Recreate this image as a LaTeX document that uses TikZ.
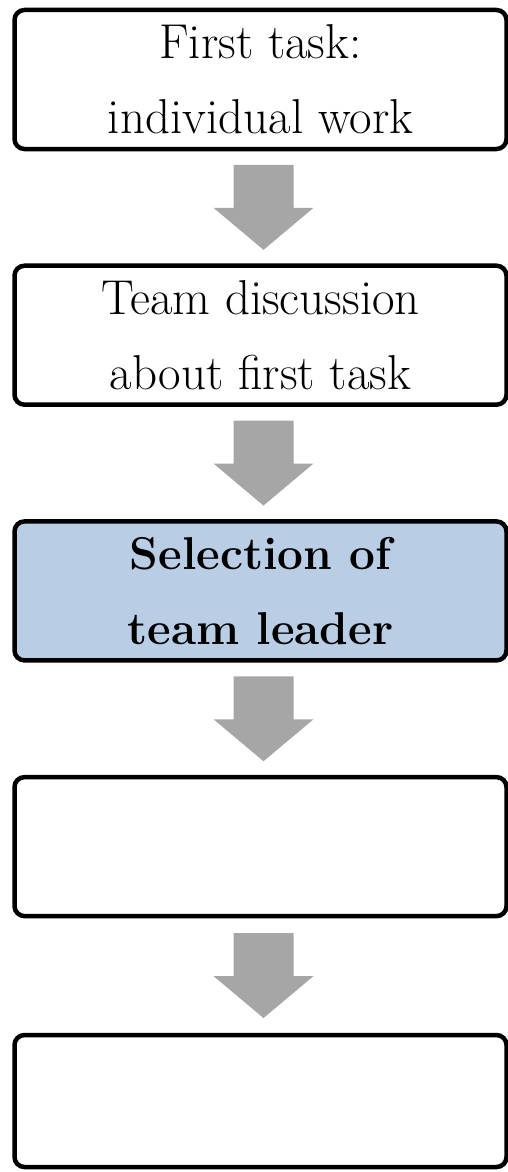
\documentclass[tikz,border=0pt]{standalone}
\usepackage{amsmath, amssymb}
\definecolor{grisflecha}{HTML}{A6A6A6}
\definecolor{azulclaro}{HTML}{B9CDE5}
\tikzset{
  caja/.style={draw=black, line width=4.5pt, rounded corners=10pt, fill=white,
    minimum width=492pt, minimum height=139pt, inner sep=0pt, align=center,
    font=\fontsize{49}{75}\selectfont},
  cajalider/.style={caja, fill=azulclaro, font=\fontsize{46}{75}\selectfont\bfseries},
}
\newcommand{\flechatikz}[1]{
  \begin{scope}[shift={(#1)}]
    \fill[grisflecha] (-27,42.5) -- (33,42.5) -- (33,-0.5) -- (53,-0.5)
      -- (3,-42.5) -- (-47,-0.5) -- (-27,-0.5) -- cycle;
  \end{scope}
}

\begin{document}
\begin{tikzpicture}[x=1pt, y=1pt] % {{{
\pgfmathsetmacro{\unitstep}{255.7}
\useasboundingbox (0,0) rectangle (508,-1172);
% Cajas {{{
\node[caja] (tarea) at (260.5,-79.5) {First task:\\individual work};
\node[caja] (discusion) at (260.5,{-79.5-1*\unitstep}) {Team discussion\\about first task};
\node[cajalider] (lider) at (260.5,{-79.5-2*\unitstep}) {Selection of\\team leader};
\node[caja] (cuarta) at (260.5,{-79.5-3*\unitstep}) {};
\node[caja, minimum height=132pt] (quinta) at (260.5,-1101) {};
% }}}
% Flechas {{{
\path (tarea.south) -- (discusion.north) coordinate[midway] (f1);
\path (discusion.south) -- (lider.north) coordinate[midway] (f2);
\path (lider.south) -- (cuarta.north) coordinate[midway] (f3);
\path (cuarta.south) -- (quinta.north) coordinate[midway] (f4);
\foreach \f in {f1,f2,f3,f4} {
  \flechatikz{\f}
}
% }}}
\end{tikzpicture} % }}}
\end{document}
